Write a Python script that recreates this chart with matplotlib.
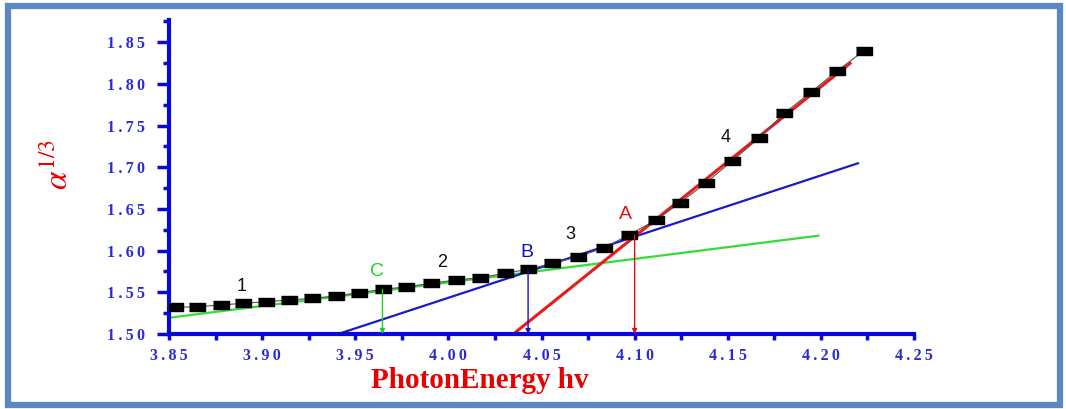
import numpy as np
import matplotlib.pyplot as plt
from matplotlib.patches import Rectangle
from matplotlib.ticker import MultipleLocator, FuncFormatter

# measured points (photon energy, alpha^(1/3))
energy = [3.8532, 3.8652, 3.8779, 3.8899, 3.9021, 3.9146, 3.9270, 3.9395, 3.9522, 3.9647,
          3.9771, 3.9907, 4.0041, 4.0170, 4.0305, 4.0430, 4.0559, 4.0698, 4.0836, 4.0969,
          4.1115, 4.1244, 4.1384, 4.1525, 4.1670, 4.1803, 4.1946, 4.2086, 4.2229]
alpha13 = [1.5320, 1.5327, 1.5348, 1.5368, 1.5387, 1.5408, 1.5428, 1.5456, 1.5495, 1.5536,
           1.5564, 1.5608, 1.5647, 1.5675, 1.5728, 1.5776, 1.5848, 1.5927, 1.6035, 1.6187,
           1.6367, 1.6574, 1.6814, 1.7078, 1.7354, 1.7646, 1.7898, 1.8153, 1.8393]

# fitted straight lines: (x_start, x_end), (y_start, y_end)
green_fit = ([3.8505, 4.1987], [1.5196, 1.6179])
blue_fit = ([3.9408, 4.2199], [1.5000, 1.7047])
red_fit = ([4.0349, 4.2157], [1.5000, 1.8246])

# drop lines from intersections to the energy axis
drops = {"A": (4.100, 1.6187, "#e01010"),
         "B": (4.0428, 1.5776, "#1010c0"),
         "C": (3.9646, 1.5536, "#20d020")}

# text labels
region_labels = {"1": (3.889, 1.5567), "2": (3.9968, 1.586),
                 "3": (4.0657, 1.6195), "4": (4.1486, 1.7359)}
point_labels = {"A": (4.0949, 1.6427), "B": (4.0421, 1.598), "C": (3.9617, 1.5747)}

plt.rcParams["mathtext.fontset"] = "stix"

W, H = 1066, 409
fig = plt.figure(figsize=(W / 100, H / 100), dpi=100)
fig.patch.set_facecolor("white")

# light-blue frame round the figure
fig.patches.append(Rectangle((8 / W, 4 / H), 1052 / W, 399 / H, transform=fig.transFigure,
                             fill=False, edgecolor="#5b88c4", linewidth=4.5))

ax = fig.add_axes([169 / W, 1 - 334 / H, (914 - 169) / W, (334 - 20) / H])
ax.set_xlim(3.85, 4.25)
ax.set_ylim(1.50, 1.8765)

axis_blue = "#0a0ad8"
for side in ("top", "right"):
    ax.spines[side].set_visible(False)
for side in ("left", "bottom"):
    ax.spines[side].set_color(axis_blue)
    ax.spines[side].set_linewidth(3)

ax.xaxis.set_major_locator(MultipleLocator(0.05))
ax.xaxis.set_minor_locator(MultipleLocator(0.025))
ax.yaxis.set_major_locator(MultipleLocator(0.05))
ax.yaxis.set_minor_locator(MultipleLocator(0.025))
spaced = FuncFormatter(lambda v, p: "\u2009".join(f"{v:.2f}"))
ax.xaxis.set_major_formatter(spaced)
ax.yaxis.set_major_formatter(spaced)
ax.tick_params(axis="y", which="major", length=9, width=2.5, color=axis_blue, pad=8)
ax.tick_params(axis="y", which="minor", length=4, width=2.5, color=axis_blue)
ax.tick_params(axis="x", which="major", length=4, width=2.5, color=axis_blue, pad=6)
ax.tick_params(axis="x", which="minor", length=4, width=2.5, color=axis_blue)
for lab in ax.get_xticklabels() + ax.get_yticklabels():
    lab.set_fontfamily("Liberation Serif")
    lab.set_fontweight("bold")
    lab.set_fontsize(11.5)
    lab.set_color("#2b2bd0")

# fitted lines
ax.plot(*green_fit, color="#33dd33", lw=1.6, zorder=2)
ax.plot(*blue_fit, color="#1a1acc", lw=1.6, zorder=2)
ax.plot(*red_fit, color="#e81a1a", lw=2.2, zorder=2)

# data
rect = [(-1, -0.48), (1, -0.48), (1, 0.48), (-1, 0.48)]
ax.plot(energy, alpha13, color="#555555", lw=0.8, marker=rect, markersize=11,
        markerfacecolor="black", markeredgecolor="black", zorder=3)

# arrows down to the axis
for name, (x, y, c) in drops.items():
    ax.annotate("", xy=(x, 1.50), xytext=(x, y),
                arrowprops=dict(arrowstyle="-|>", color=c, lw=1.0, mutation_scale=7,
                                shrinkA=0, shrinkB=0), zorder=4)

for t, (x, y) in region_labels.items():
    ax.text(x, y, t, fontsize=13, color="#111111", ha="center", va="center",
            family="Liberation Sans")
for t, (x, y) in point_labels.items():
    ax.text(x, y, t, fontsize=14, color=drops[t][2], ha="center", va="center",
            family="Liberation Sans")

fig.text(480 / W, 1 - 381 / H, "PhotonEnergy hv", color="#e80000", fontsize=21,
         fontweight="bold", family="Liberation Serif", ha="center", va="center")
fig.text(58 / W, 1 - 165 / H, r"$\alpha^{1/3}$", color="#e80000", fontsize=24,
         rotation=90, ha="center", va="center")

fig.savefig("out.png", dpi=100)
